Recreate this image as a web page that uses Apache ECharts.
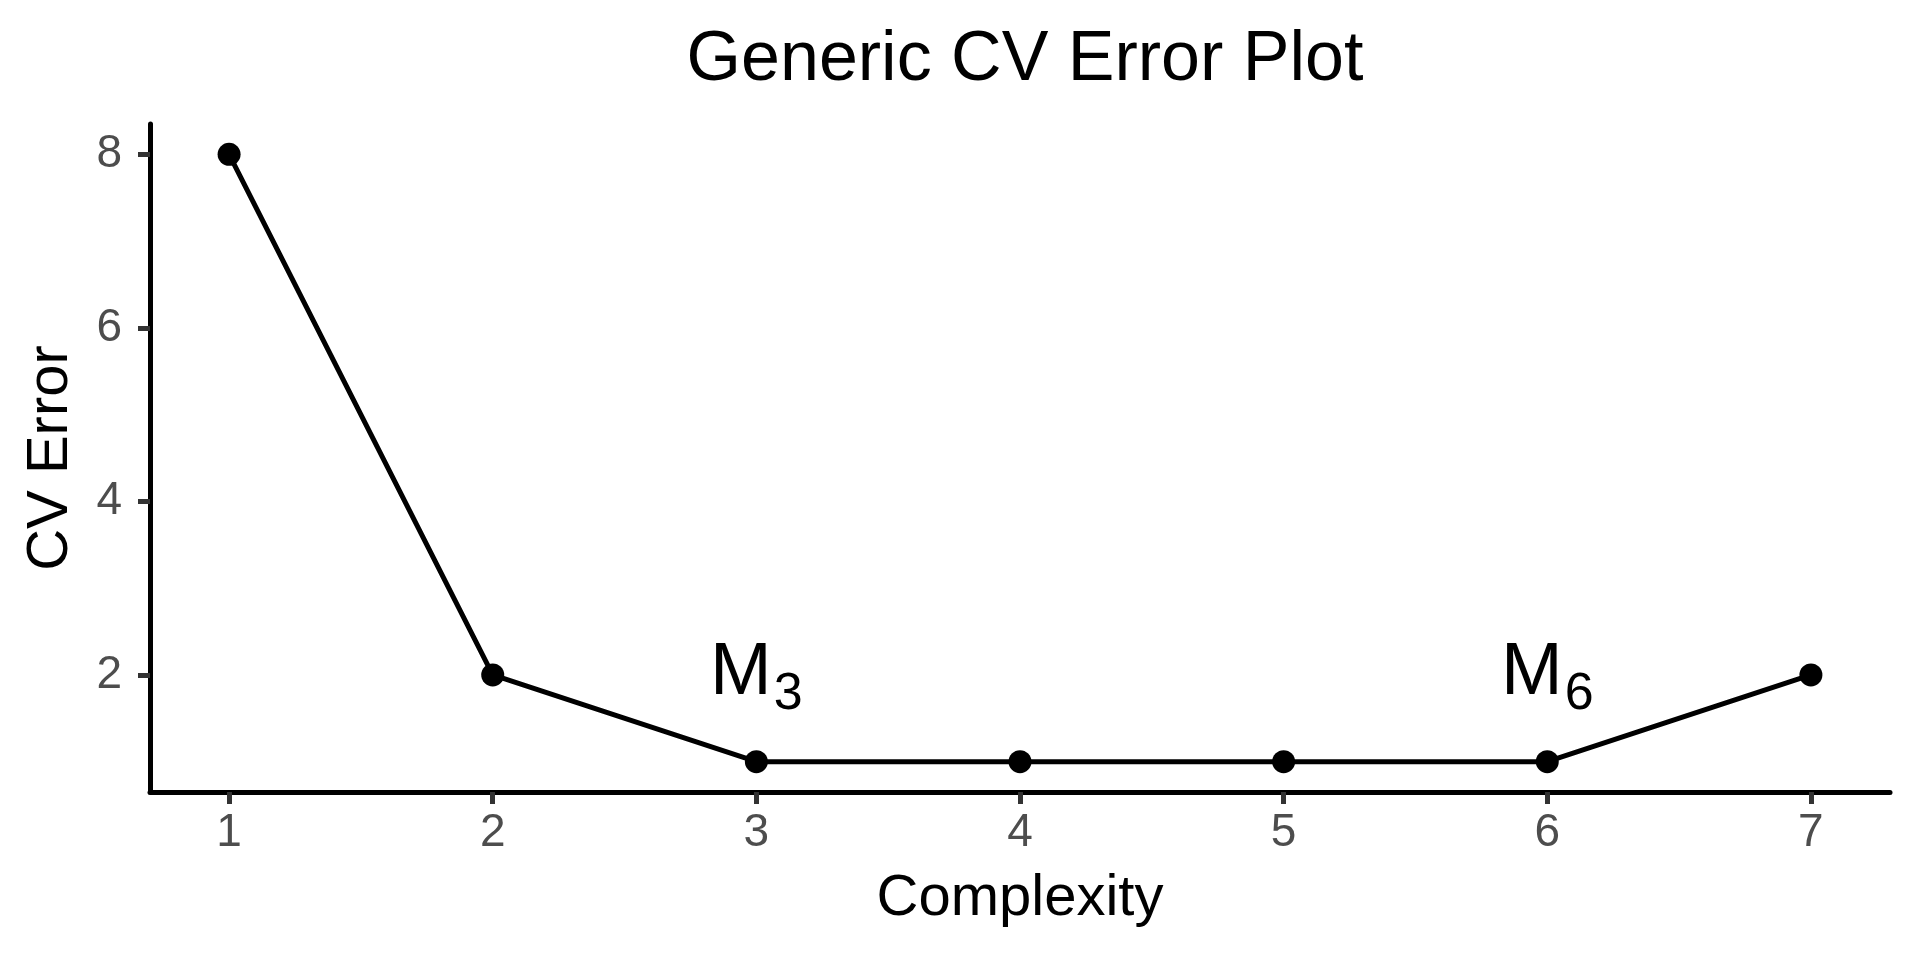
<!DOCTYPE html>
<html>
<head>
<meta charset="utf-8">
<script src="https://cdn.jsdelivr.net/npm/echarts@6/dist/echarts.min.js"></script>
<style>html,body{margin:0;padding:0;background:#fff}#c{width:1920px;height:960px}</style>
</head>
<body>
<div id="c"></div>
<script>
const complexity = [1, 2, 3, 4, 5, 6, 7];
const cvError = [8, 2, 1, 1, 1, 1, 2];
const xTicks = [1, 2, 3, 4, 5, 6, 7];
const yTicks = [2, 4, 6, 8];
const annotX = [3, 6];
const annotY = [2, 2];
const annotSub = ['3', '6'];

const FONT = 'Liberation Sans';
const chart = echarts.init(document.getElementById('c'));
chart.setOption({
  backgroundColor: '#fff',
  animation: false,
  title: {
    text: 'Generic CV Error Plot',
    left: 1020, textAlign: 'center', top: 21,
    textStyle: { fontFamily: FONT, fontSize: 70, fontWeight: 'normal', color: '#000' }
  },
  grid: { left: 150, right: 30, top: 124, bottom: 168 },
  xAxis: {
    type: 'value', min: 0.7, max: 7.3,
    name: 'Complexity', nameLocation: 'middle', nameGap: 78,
    nameTextStyle: { fontFamily: FONT, fontSize: 58, color: '#000' },
    axisLine: { show: true, lineStyle: { color: '#000', width: 5 } },
    axisTick: { show: true, length: 12, customValues: xTicks, lineStyle: { color: '#333', width: 5 } },
    axisLabel: { customValues: xTicks, margin: 18, fontFamily: FONT, fontSize: 46, color: '#4D4D4D' },
    splitLine: { show: false }
  },
  yAxis: {
    type: 'value', min: 0.65, max: 8.35,
    name: 'CV Error', nameLocation: 'middle', nameGap: 70, nameRotate: 90,
    nameTextStyle: { fontFamily: FONT, fontSize: 58, color: '#000' },
    axisLine: { show: true, lineStyle: { color: '#000', width: 5 } },
    axisTick: { show: true, length: 12, customValues: yTicks, lineStyle: { color: '#333', width: 5 } },
    axisLabel: { customValues: yTicks, margin: 28, fontFamily: FONT, fontSize: 46, color: '#4D4D4D' },
    splitLine: { show: false }
  },
  series: [
    {
      type: 'line',
      data: complexity.map((x, i) => [x, cvError[i]]),
      symbol: 'circle', symbolSize: 23,
      lineStyle: { color: '#000', width: 5 },
      itemStyle: { color: '#000' },
      z: 3
    },
    {
      type: 'scatter',
      symbol: 'circle',
      symbolSize: 1,
      itemStyle: { color: '#000', opacity: 0 },
      data: annotX.map((x, i) => ({ value: [x, annotY[i]], sub: annotSub[i] })),
      label: {
        show: true, position: 'inside', offset: [0, 9], color: '#000', opacity: 1,
        textBorderWidth: 0,
        formatter: p => '{m|M}{s|' + p.data.sub + '}',
        rich: {
          m: { fontFamily: FONT, fontSize: 74, lineHeight: 74, color: '#000', textBorderWidth: 0, verticalAlign: 'bottom', padding: [0, 2, 10, 0] },
          s: { fontFamily: FONT, fontSize: 52, lineHeight: 52, color: '#000', textBorderWidth: 0, verticalAlign: 'bottom' }
        }
      },
      emphasis: { disabled: true },
      z: 4
    }
  ]
});
</script>
</body>
</html>
